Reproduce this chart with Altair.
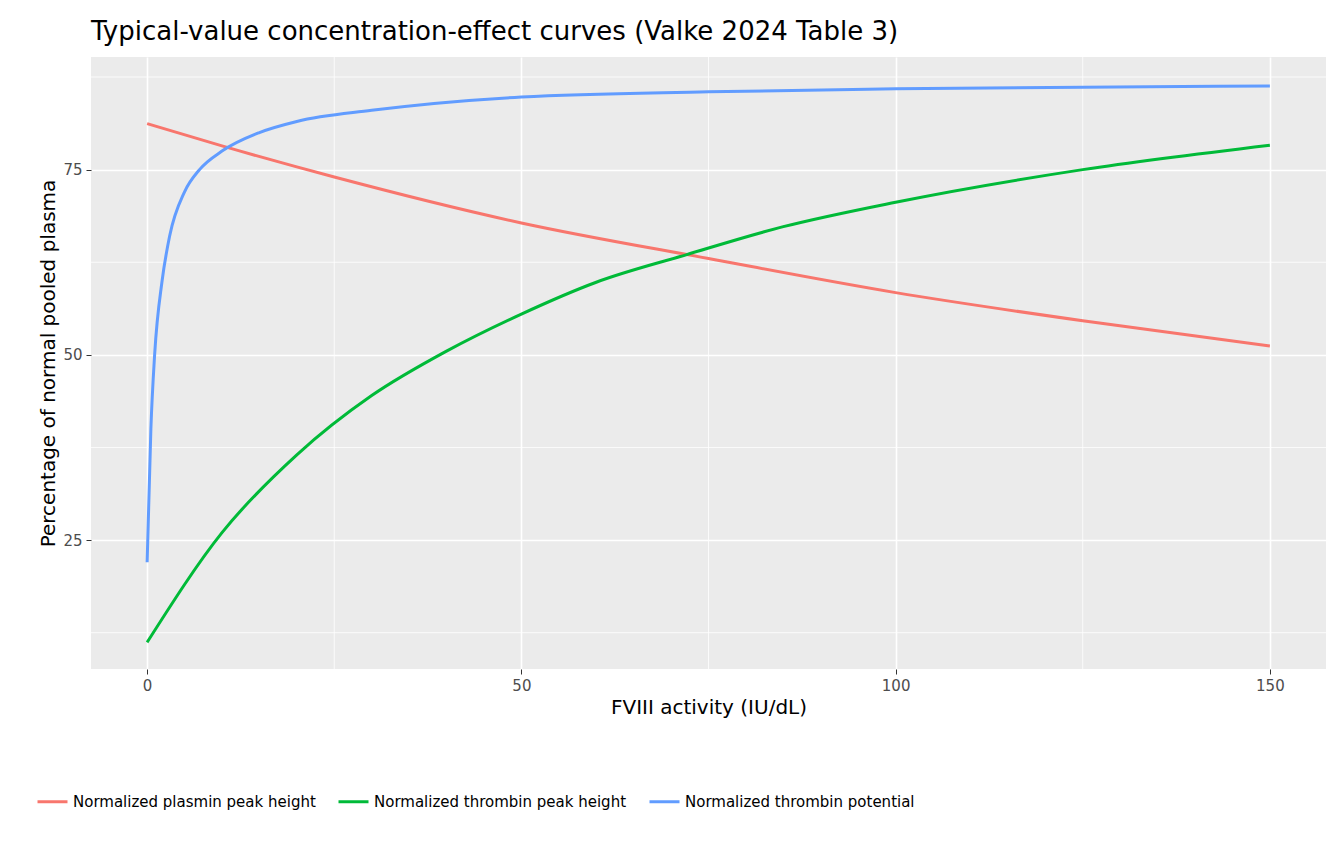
import altair as alt
import pandas as pd

# Values
plasmin_x = [0, 10, 25, 50, 75, 100, 125, 150]
plasmin_y = [81.2, 78.2, 74.0, 67.8, 63.0, 58.4, 54.6, 51.2]

thrombin_peak_x = [0, 10, 20, 30, 40, 50, 60, 72, 85, 100, 125, 150]
thrombin_peak_y = [11.2, 26.0, 36.5, 44.5, 50.5, 55.5, 59.8, 63.5, 67.3, 70.6, 75.0, 78.3]

thrombin_pot_x = [0, 0.5, 1, 2, 3, 5, 7, 10, 15, 20, 30, 50, 75, 100, 150]
thrombin_pot_y = [22.0, 40.0, 50.0, 60.0, 66.0, 72.0, 75.0, 77.5, 80.0, 81.5, 83.0, 84.8, 85.5, 85.9, 86.3]

series = [
    "Normalized plasmin peak height",
    "Normalized thrombin peak height",
    "Normalized thrombin potential",
]
colors = ["#F8766D", "#00BA38", "#619CFF"]

minor_x = [25, 75, 125]
minor_y = [12.5, 37.5, 62.5, 87.5]

rows = []
for name, xs, ys in zip(series, [plasmin_x, thrombin_peak_x, thrombin_pot_x],
                        [plasmin_y, thrombin_peak_y, thrombin_pot_y]):
    rows += [{"fviii": x, "pct": y, "series": name} for x, y in zip(xs, ys)]
df = pd.DataFrame(rows)

x_scale = alt.Scale(domain=[-7.5, 157.5], nice=False, zero=False)
y_scale = alt.Scale(domain=[7.6, 90.2], nice=False, zero=False)

minor_v = (
    alt.Chart(pd.DataFrame({"v": minor_x}))
    .mark_rule(color="white", strokeWidth=0.8)
    .encode(x=alt.X("v:Q", scale=x_scale))
)
minor_h = (
    alt.Chart(pd.DataFrame({"v": minor_y}))
    .mark_rule(color="white", strokeWidth=0.8)
    .encode(y=alt.Y("v:Q", scale=y_scale))
)

lines = (
    alt.Chart(df)
    .mark_line(strokeWidth=3, interpolate="monotone")
    .encode(
        x=alt.X("fviii:Q", scale=x_scale, title="FVIII activity (IU/dL)",
                axis=alt.Axis(values=[0, 50, 100, 150])),
        y=alt.Y("pct:Q", scale=y_scale, title="Percentage of normal pooled plasma",
                axis=alt.Axis(values=[25, 50, 75])),
        color=alt.Color("series:N", scale=alt.Scale(domain=series, range=colors),
                        legend=alt.Legend(title=None, orient="none", direction="horizontal",
                                          legendX=-55, legendY=728,
                                          symbolType="stroke", symbolStrokeWidth=3,
                                          symbolSize=900, labelFontSize=15, labelLimit=0,
                                          columnPadding=16)),
    )
)

chart = (
    alt.layer(minor_v, minor_h, lines)
    .properties(
        width=1235, height=612,
        title=alt.TitleParams("Typical-value concentration-effect curves (Valke 2024 Table 3)",
                              anchor="start", frame="group"),
        padding={"left": 28, "top": 10, "right": 0, "bottom": 5},
    )
    .configure_view(fill="#EBEBEB", strokeWidth=0)
    .configure_axis(
        gridColor="white", gridWidth=1.6, domain=False, tickColor="#333333",
        tickSize=5, labelColor="#4D4D4D", labelFontSize=15, titleFontSize=20,
        titleFontWeight="normal", titleColor="black", labelFont="DejaVu Sans", titleFont="DejaVu Sans",
        labelPadding=4,
    )
    .configure_legend(labelFont="DejaVu Sans")
    .configure_title(fontSize=26, font="DejaVu Sans", fontWeight="normal", offset=12)
)

chart.save("out.html", embed_options={"renderer": "svg", "actions": False})
